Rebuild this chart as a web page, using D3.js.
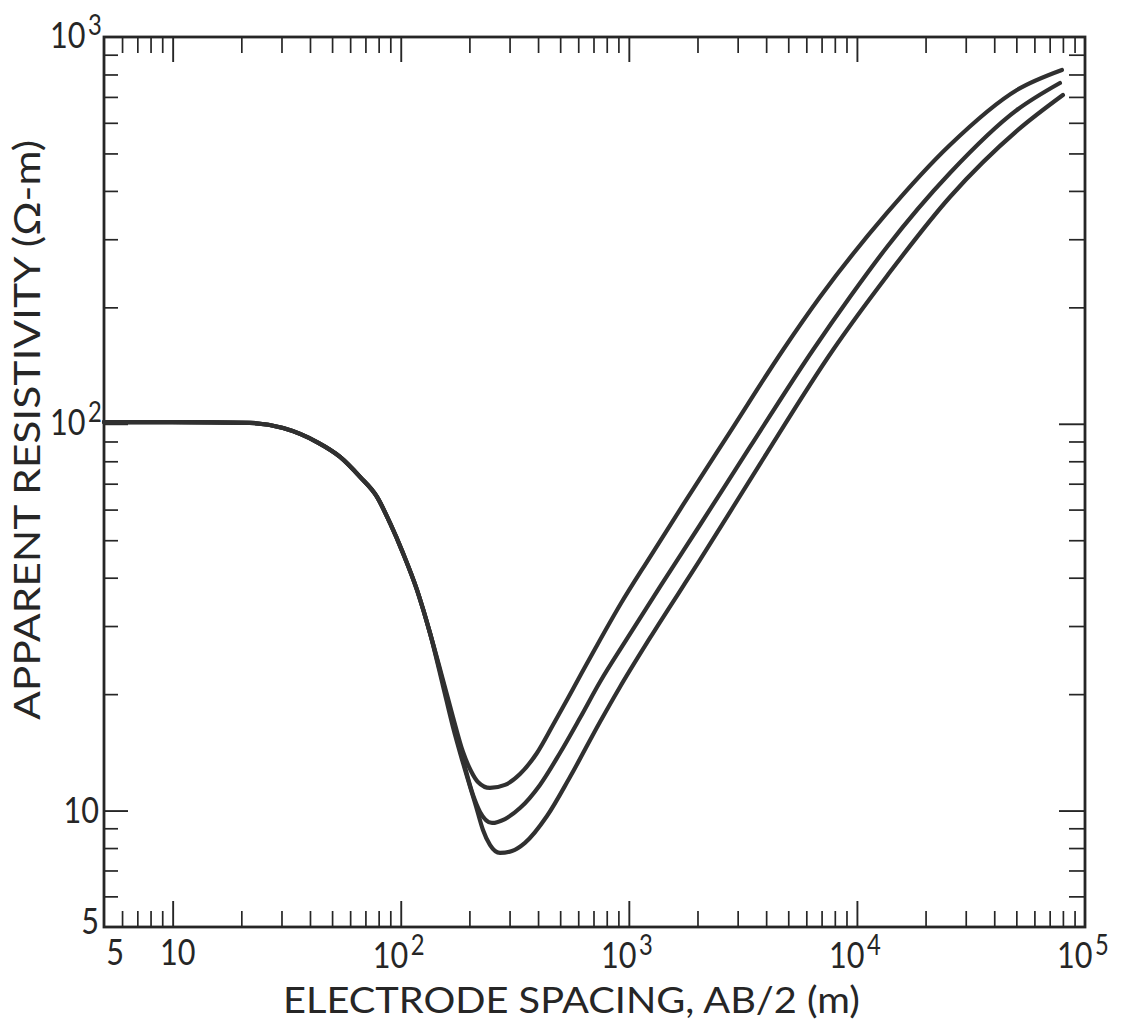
<!DOCTYPE html>
<html>
<head>
<meta charset="utf-8">
<script src="https://cdn.jsdelivr.net/npm/d3@7"></script>
<style>
  html, body { margin: 0; padding: 0; background: #ffffff; }
  svg { display: block; }
  text { font-family: Lato, "Open Sans", "DejaVu Sans", sans-serif; font-weight: 400; fill: #262626; }
</style>
</head>
<body>
<svg id="chart" width="1122" height="1028"></svg>
<script>
// ---------------- data ----------------
// Common descending branch (shared by all three curves)
const spacingCommon = [5, 10, 21.8, 30.5, 42.9, 54.2, 66.3, 78.7, 89.7, 102.3, 117.8, 134.3];
const rhoCommon     = [101, 101, 100.5, 97.5, 89.7, 82.1, 72.9, 64.7, 55.4, 46.3, 37.2, 28.8];

// Upper curve
const spacingTop = [153.2, 169.4, 187.5, 203.2, 218, 246.1, 286.4, 333.3, 395.6, 465.0, 569.0, 710.5, 914.6, 1238, 1728, 2776, 4741, 6887, 13545, 25580, 50300, 79210];
const rhoTop     = [21.76, 17.46, 14.17, 12.66, 11.86, 11.44, 11.65, 12.43, 14.09, 16.64, 20.63, 26.17, 34.0, 45.24, 61.68, 95.2, 155.2, 212.7, 350.8, 525.8, 729.5, 821.6];

// Middle curve
const spacingMid = [153.2, 169.4, 187.5, 207.4, 222.6, 251.2, 286.4, 333.3, 407.7, 499.0, 610.6, 747.2, 961.8, 1369, 2051, 3397, 6418, 9322, 13545, 25580, 50300, 77640];
const rhoMid     = [21.4, 16.85, 13.51, 10.97, 9.92, 9.29, 9.51, 10.15, 11.65, 14.09, 17.35, 21.50, 27.29, 37.86, 54.74, 87.1, 155.2, 212.7, 286.5, 444.9, 647.6, 760.4];

// Lower curve
const spacingLow = [153.2, 169.4, 187.5, 213.7, 229.4, 246.1, 272.3, 307.4, 350.4, 437.7, 552.1, 747.2, 914.6, 1238, 2051, 3757, 7852, 13545, 25580, 50820, 80020];
const rhoLow     = [21.0, 16.45, 13.27, 10.27, 8.91, 8.15, 7.77, 7.86, 8.25, 9.68, 12.21, 16.94, 20.87, 27.94, 44.45, 78.7, 155.2, 241.1, 385.8, 575.0, 707.9];

// Axis domains and tick labels
const xDomain = [5, 1e5];
const yDomain = [5, 1000];
const xMajorTicks = [10, 100, 1000, 10000];
const xLabels = [
  {v: 5, base: "5", exp: ""}, {v: 10, base: "10", exp: ""},
  {v: 100, base: "10", exp: "2"}, {v: 1000, base: "10", exp: "3"},
  {v: 10000, base: "10", exp: "4"}, {v: 100000, base: "10", exp: "5"}
];
const yMajorTicks = [10, 100];
const yLabels = [
  {v: 5, base: "5", exp: ""}, {v: 10, base: "10", exp: ""},
  {v: 100, base: "10", exp: "2"}, {v: 1000, base: "10", exp: "3"}
];
const xTitle = "ELECTRODE SPACING, AB/2 (m)";
const yTitle = "APPARENT RESISTIVITY (\u03A9-m)";

// ---------------- layout ----------------
const L = 104, R = 1085, T = 37, B = 927;
const ink = "#262626";

const svg = d3.select("#chart");
const x = d3.scaleLog().domain(xDomain).range([L, R]);
const y = d3.scaleLog().domain(yDomain).range([B, T]);

function minorTicks(dom) {
  const out = [];
  for (let d = 1; d <= 1e5; d *= 10) {
    for (let m = 1; m <= 9; m++) {
      const v = m * d;
      if (v > dom[0] * 1.0001 && v < dom[1] * 0.9999) out.push(v);
    }
  }
  return out;
}
const xMinor = minorTicks(xDomain).filter(v => !xMajorTicks.includes(v));
const yMinor = minorTicks(yDomain).filter(v => !yMajorTicks.includes(v));

function styleAxis(g, w) {
  g.select(".domain").remove();
  g.selectAll(".tick line").attr("stroke", ink).attr("stroke-width", w);
  g.selectAll(".tick text").remove();
}

// bottom (ticks pointing up)
svg.append("g").attr("transform", `translate(0,${B})`)
  .call(d3.axisBottom(x).tickValues(xMinor).tickSize(-16).tickFormat(""))
  .call(g => styleAxis(g, 1.7));
svg.append("g").attr("transform", `translate(0,${B})`)
  .call(d3.axisBottom(x).tickValues(xMajorTicks).tickSize(-26).tickFormat(""))
  .call(g => styleAxis(g, 1.9));
// top (ticks pointing down)
svg.append("g").attr("transform", `translate(0,${T})`)
  .call(d3.axisTop(x).tickValues(xMinor).tickSize(-16).tickFormat(""))
  .call(g => styleAxis(g, 1.7));
svg.append("g").attr("transform", `translate(0,${T})`)
  .call(d3.axisTop(x).tickValues(xMajorTicks).tickSize(-25).tickFormat(""))
  .call(g => styleAxis(g, 1.9));
// left (ticks pointing right)
svg.append("g").attr("transform", `translate(${L},0)`)
  .call(d3.axisLeft(y).tickValues(yMinor).tickSize(-14).tickFormat(""))
  .call(g => styleAxis(g, 1.7));
svg.append("g").attr("transform", `translate(${L},0)`)
  .call(d3.axisLeft(y).tickValues(yMajorTicks).tickSize(-24).tickFormat(""))
  .call(g => styleAxis(g, 1.9));
// right (ticks pointing left)
svg.append("g").attr("transform", `translate(${R},0)`)
  .call(d3.axisRight(y).tickValues(yMinor).tickSize(-16).tickFormat(""))
  .call(g => styleAxis(g, 1.7));
svg.append("g").attr("transform", `translate(${R},0)`)
  .call(d3.axisRight(y).tickValues(yMajorTicks).tickSize(-26).tickFormat(""))
  .call(g => styleAxis(g, 1.9));

// frame
svg.append("rect")
  .attr("x", L).attr("y", T).attr("width", R - L).attr("height", B - T)
  .attr("fill", "none").attr("stroke", ink).attr("stroke-width", 2.8);

// ---------------- curves ----------------
const line = d3.line().x(d => x(d[0])).y(d => y(d[1])).curve(d3.curveMonotoneX);
const seriesList = [
  [spacingTop, rhoTop],
  [spacingMid, rhoMid],
  [spacingLow, rhoLow]
];
seriesList.forEach(([sx, sy]) => {
  const pts = spacingCommon.map((v, i) => [v, rhoCommon[i]])
    .concat(sx.map((v, i) => [v, sy[i]]));
  svg.append("path")
    .attr("d", line(pts))
    .attr("fill", "none")
    .attr("stroke", "#303030")
    .attr("stroke-width", 4.2)
    .attr("stroke-linecap", "round")
    .attr("stroke-linejoin", "round");
});

// ---------------- tick labels ----------------
const fsMain = 36, fsSup = 28;
function label(px, py, anchor, base, exp) {
  const t = svg.append("text")
    .attr("transform", `translate(${px},${py}) scale(0.85,1)`)
    .attr("text-anchor", anchor)
    .attr("font-size", fsMain);
  t.append("tspan").text(base);
  if (exp) {
    t.append("tspan").attr("dx", 3).attr("dy", -13).attr("font-size", fsSup).text(exp);
  }
}
xLabels.forEach(d => {
  if (!d.exp) {
    label(x(d.v) + (d.base === "5" ? 11 : 5), 965, "middle", d.base, "");
  } else {
    label(x(d.v) - 2, 968, "middle", d.base, d.exp);
  }
});
yLabels.forEach(d => {
  if (!d.exp) {
    label(99, y(d.v) + (d.base === "5" ? 7 : 12), "end", d.base, "");
  } else {
    label(76, y(d.v) + 11, "middle", d.base, d.exp);
  }
});

// ---------------- axis titles ----------------
svg.append("text")
  .attr("x", 283).attr("y", 1013)
  .attr("font-size", 36)
  .attr("textLength", 577)
  .attr("lengthAdjust", "spacingAndGlyphs")
  .text(xTitle);

svg.append("text")
  .attr("transform", "translate(40,720) rotate(-90)")
  .attr("x", 0).attr("y", 0)
  .attr("font-size", 36)
  .attr("textLength", 580)
  .attr("lengthAdjust", "spacingAndGlyphs")
  .text(yTitle);
</script>
</body>
</html>
